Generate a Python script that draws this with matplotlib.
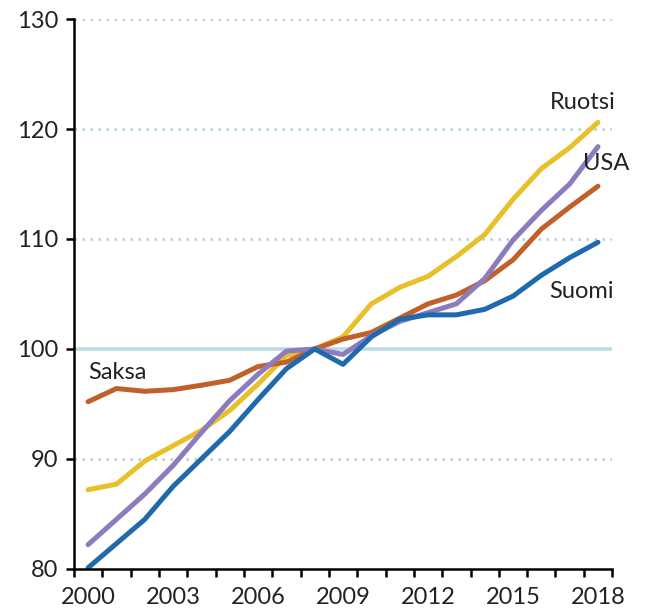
import matplotlib
matplotlib.use("Agg")
import matplotlib.pyplot as plt
import numpy as np

# Data (indeksi, 2008 = 100)
years = list(range(2000, 2019))
suomi = [80.1, 82.3, 84.5, 87.5, 90.0, 92.5, 95.4, 98.2, 100.0, 98.6,
         101.1, 102.7, 103.1, 103.1, 103.6, 104.8, 106.7, 108.3, 109.7]
saksa = [95.2, 96.4, 96.15, 96.3, 96.7, 97.15, 98.4, 98.8, 100.0, 100.9,
         101.5, 102.8, 104.1, 104.9, 106.2, 108.1, 110.9, 112.9, 114.8]
ruotsi = [87.2, 87.7, 89.8, 91.2, 92.6, 94.4, 96.8, 99.4, 100.0, 101.1,
          104.1, 105.6, 106.6, 108.4, 110.4, 113.6, 116.4, 118.3, 120.6]
usa = [82.2, 84.5, 86.8, 89.4, 92.4, 95.3, 97.7, 99.8, 100.0, 99.5,
       101.2, 102.5, 103.3, 104.1, 106.4, 109.9, 112.6, 115.0, 118.4]
tick_years = [2000, 2003, 2006, 2009, 2012, 2015, 2018]

plt.rcParams["font.family"] = ["Lato", "DejaVu Sans"]

fig = plt.figure(figsize=(6.54, 6.15), dpi=100)
ax = fig.add_axes([0.113, 0.075, 0.823, 0.894])

x = np.arange(len(years))

# apuviivat
for v in [90, 110, 120, 130]:
    ax.axhline(v, color="#a9cfe0", lw=1.8, ls=(0, (1, 2.2)), zorder=1)
ax.axhline(100, color="#bcdbe6", lw=2.6, zorder=1)

series = [
    (ruotsi, "#e8c12a"),
    (saksa, "#c0602a"),
    (usa, "#8c7bbd"),
    (suomi, "#1f69ad"),
]
for vals, col in series:
    ax.plot(x, vals, color=col, lw=3.6, solid_capstyle="round",
            solid_joinstyle="round", zorder=3)

txt_kw = dict(fontsize=17, color="#222222")
ax.text(17.45, 122.4, "Ruotsi", ha="center", va="center", **txt_kw)
ax.text(18.3, 116.9, "USA", ha="center", va="center", **txt_kw)
ax.text(17.4, 105.2, "Suomi", ha="center", va="center", **txt_kw)
ax.text(1.05, 97.9, "Saksa", ha="center", va="center", **txt_kw)

ax.set_xlim(-0.5, len(years) - 0.5)
ax.set_ylim(80, 130)
ax.set_yticks([80, 90, 100, 110, 120, 130])
ax.set_xticks([years.index(y) for y in tick_years])
ax.set_xticklabels([str(y) for y in tick_years])
ax.set_xticks(np.arange(-0.5, len(years)), minor=True)

for s in ["top", "right"]:
    ax.spines[s].set_visible(False)
for s in ["left", "bottom"]:
    ax.spines[s].set_linewidth(1.8)
    ax.spines[s].set_zorder(4)

ax.tick_params(axis="y", length=6, width=1.8, labelsize=17,
               labelcolor="#222222", pad=5)
ax.tick_params(axis="x", which="major", length=0, labelsize=17,
               labelcolor="#222222", pad=13)
ax.tick_params(axis="x", which="minor", length=6, width=1.8)

fig.savefig("out.png", dpi=100)
